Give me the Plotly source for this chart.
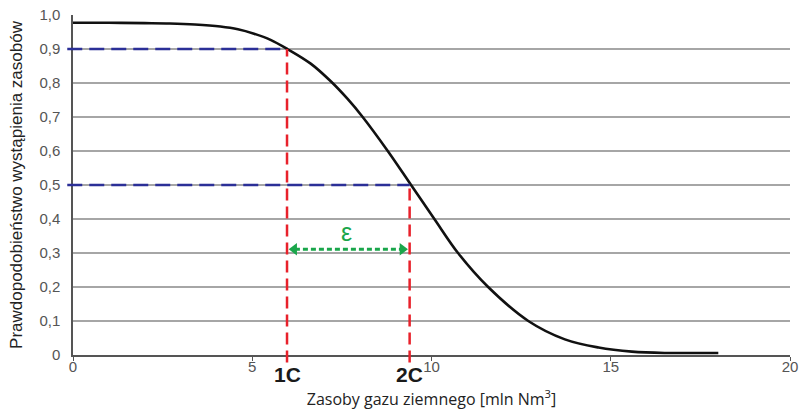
import plotly.graph_objects as go

# Curve
reserves = [0, 1, 2, 2.7, 3.4, 4.11, 4.6, 5.05, 5.51, 5.98, 6.63, 7.19, 7.66, 8.08,
            8.78, 9.43, 10.08, 10.74, 11.58, 12.7, 13.72, 14.66, 15.59,
            16.5, 17.3, 18]
probability = [0.977, 0.977, 0.976, 0.975, 0.972, 0.966, 0.958, 0.945, 0.927, 0.9,
               0.857, 0.805, 0.753, 0.7, 0.6, 0.5, 0.4, 0.3, 0.2, 0.1, 0.046,
               0.022, 0.01, 0.006, 0.006, 0.006]

# Category markers
cat_labels = ["1C", "2C"]
cat_x = [5.97, 9.39]
cat_p = [0.9, 0.5]
eps_y = 0.311

x_ticks = [0, 5, 10, 15, 20]
y_ticks = [0, 0.1, 0.2, 0.3, 0.4, 0.5, 0.6, 0.7, 0.8, 0.9, 1.0]
y_ticktext = ["0", "0,1", "0,2", "0,3", "0,4", "0,5", "0,6", "0,7", "0,8", "0,9", "1,0"]
X_MAX = 20

RED = "#e8212b"
BLUE = "#2b2f97"
GREEN = "#1aa64b"

fig = go.Figure()

shapes = []
for cx, cp in zip(cat_x, cat_p):
    shapes.append(dict(type="line", xref="paper", yref="y", x0=-0.008, x1=cx / X_MAX,
                       y0=cp, y1=cp, line=dict(color=BLUE, width=2.5, dash="15px,7px"),
                       layer="above"))
    shapes.append(dict(type="line", xref="x", yref="paper", x0=cx, x1=cx,
                       y0=-0.022, y1=cp, line=dict(color=RED, width=2.5, dash="12px,6px"),
                       layer="above"))

fig.add_trace(go.Scatter(x=reserves, y=probability, mode="lines",
                         line=dict(color="#111111", width=2.6, shape="spline", smoothing=1.0),
                         hoverinfo="skip", showlegend=False))

# green epsilon arrow
fig.add_trace(go.Scatter(x=[cat_x[0] + 0.22, cat_x[1] - 0.22], y=[eps_y, eps_y], mode="lines",
                         line=dict(color=GREEN, width=3, dash="5px,3px"),
                         showlegend=False, hoverinfo="skip"))
fig.add_trace(go.Scatter(x=[cat_x[0] + 0.2, cat_x[1] - 0.2], y=[eps_y, eps_y], mode="markers",
                         marker=dict(symbol=["triangle-left", "triangle-right"], size=11,
                                     color=GREEN),
                         showlegend=False, hoverinfo="skip", cliponaxis=False))

annotations = []
for lab, cx in zip(cat_labels, cat_x):
    annotations.append(dict(x=cx, y=-0.058, xref="x", yref="paper", text="<b>" + lab + "</b>",
                            showarrow=False, font=dict(family="Liberation Sans", size=21,
                                                       color="#1a1a1a"),
                            xanchor="center", yanchor="middle"))
annotations.append(dict(x=(cat_x[0] + cat_x[1]) / 2 - 0.05, y=eps_y + 0.05, xref="x", yref="y",
                        text="ε", showarrow=False,
                        font=dict(family="Liberation Sans", size=25, color=GREEN),
                        xanchor="center", yanchor="middle"))

fig.update_layout(
    width=803, height=410,
    margin=dict(l=73, r=13, t=15, b=55),
    plot_bgcolor="white", paper_bgcolor="white",
    shapes=shapes, annotations=annotations,
    font=dict(family="Liberation Sans", size=14, color="#555555"),
    xaxis=dict(range=[0, X_MAX], tickvals=x_ticks, showgrid=False, zeroline=False,
               showline=True, linecolor="#555555", linewidth=1.5,
               ticks="outside", ticklen=4, tickcolor="#555555",
               ticklabelstandoff=-7, automargin=False,
               tickfont=dict(size=15, color="#555555"),
               title=dict(text="Zasoby gazu ziemnego [mln Nm<sup>3</sup>]",
                          font=dict(family="Open Sans", size=16, color="#222222"),
                          standoff=24)),
    yaxis=dict(range=[0, 1.0], tickvals=y_ticks, ticktext=y_ticktext,
               showgrid=True, gridcolor="#a6a6a6", gridwidth=1.5, zeroline=False,
               showline=True, linecolor="#555555", linewidth=1.5,
               ticks="", ticklabelstandoff=8, automargin=False,
               tickfont=dict(size=15, color="#555555"),
               title=dict(text="Prawdopodobieństwo wystąpienia zasobów",
                          font=dict(family="Liberation Sans", size=17, color="#222222"),
                          standoff=12)),
)

fig.write_html("out.html", config={"displayModeBar": False},
               post_script="document.body.style.margin='0';document.body.style.overflow='hidden';")
